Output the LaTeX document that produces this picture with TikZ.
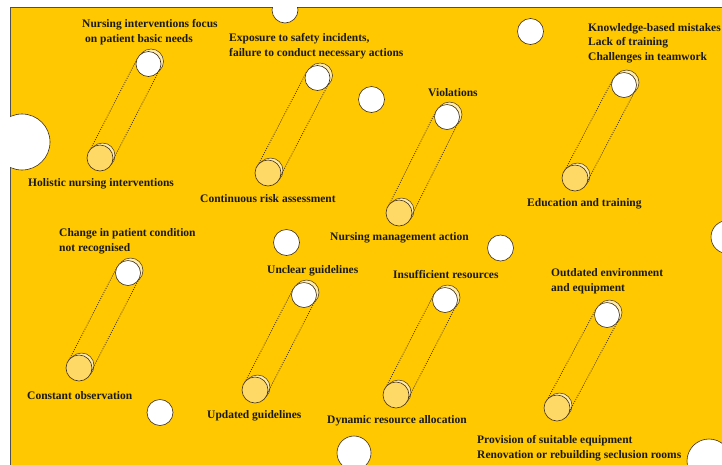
\documentclass[tikz,border=0pt]{standalone}
\usepackage{fontspec}
\setmainfont{Liberation Serif}
\usetikzlibrary{calc}
\definecolor{bgyellow}{HTML}{FFC800}
\definecolor{lowfill}{HTML}{FFD966}
\definecolor{pale}{HTML}{FFEBAA}
\definecolor{edge}{HTML}{40301E}
\definecolor{ink}{HTML}{1A1A1A}
\definecolor{frame}{HTML}{505050}
\tikzset{
  hole/.style={circle, draw=edge, fill=white, line width=0.6pt, inner sep=0pt, minimum size=26pt},
  topc/.style={circle, draw=edge, fill=white, line width=0.6pt, inner sep=0pt, minimum size=25pt},
  botc/.style={circle, draw=edge, fill=lowfill, line width=0.6pt, inner sep=0pt, minimum size=26pt},
  backc/.style={circle, draw=edge, fill=pale, line width=0.5pt, inner sep=0pt, minimum size=25pt},
  lbl/.style={font=\fontsize{11.5}{14.5}\selectfont\bfseries, text=ink, align=left, inner sep=0pt, anchor=base west},
  tube/.style={line width=0.8pt, draw=edge, dash pattern=on 0.9pt off 1.4pt}
}
\newcommand\tubepair[3]{%
  \coordinate (#1bc) at (#2);
  \coordinate (#1tc) at (#3);
  \node[backc] (#1bb) at ($(#1bc)+(2.5,-2.5)$) {};
  \node[backc] (#1tb) at ($(#1tc)+(2.5,-2.5)$) {};
  \draw[tube] ($(#1bc)!12.5pt!90:(#1tc)$) -- ($(#1tc)!12.5pt!-90:(#1bc)$);
  \draw[tube] ($(#1bc)!12.5pt!-90:(#1tc)$) -- ($(#1tc)!12.5pt!90:(#1bc)$);
  \node[botc] (#1b) at (#1bc) {};
  \node[topc] (#1t) at (#1tc) {};
}
\begin{document}
\begin{tikzpicture}[x=1pt,y=-1pt]
\useasboundingbox (0,0) rectangle (722,464);
\fill[white] (0,0) rectangle (722,464);
\fill[bgyellow, draw=frame, line width=0.8pt] (10,7) rectangle (740,480);
\begin{scope}
  \clip (10,7) rectangle (740,480);
  \node[hole, minimum size=56pt] (h1) at (22,142) {};
  \node[hole] (h2) at (285,10) {};
  \node[hole] (h3) at (371.5,99.5) {};
  \node[hole] (h4) at (530.5,31.5) {};
  \node[hole] (h5) at (286.5,242.5) {};
  \node[hole] (h6) at (500.5,248) {};
  \node[hole] (h7) at (160,412.5) {};
  \node[hole, minimum size=34pt] (h8) at (354,453) {};
  \node[hole, minimum size=33pt] (h9) at (727.5,237) {};
  \node[hole, minimum size=44pt] (h10) at (709,461) {};
\end{scope}
\tubepair{p1}{100,158}{148.5,64}
\tubepair{p2}{268,173}{317.5,78}
\tubepair{p3}{399,213}{447,117}
\tubepair{p4}{575,178}{624,85}
\tubepair{p5}{79,368}{128,273}
\tubepair{p6}{255,390}{304,295}
\tubepair{p7}{396,395}{445,300}
\tubepair{p8}{557,408}{607,315}
\node[lbl] (l1a) at (82,42) {Nursing interventions focus\\\hspace*{3pt}on patient basic needs};
\node[lbl] (l1b) at (28,186) {Holistic nursing interventions};
\node[lbl] (l2a) at (229,56) {Exposure to safety incidents,\\failure to conduct necessary actions};
\node[lbl] (l2b) at (200,202) {Continuous risk assessment};
\node[lbl] (l3a) at (428,96) {Violations};
\node[lbl] (l3b) at (330,240) {Nursing management action};
\node[lbl] (l4a) at (588,60) {Knowledge-based mistakes\\Lack of training\\Challenges in teamwork};
\node[lbl] (l4b) at (527,206.5) {Education and training};
\node[lbl] (l5a) at (59,251) {Change in patient condition\\not recognised};
\node[lbl] (l5b) at (27,399) {Constant observation};
\node[lbl] (l6a) at (267,273) {Unclear guidelines};
\node[lbl] (l6b) at (207,418) {Updated guidelines};
\node[lbl] (l7a) at (393,278) {Insufficient resources};
\node[lbl] (l7b) at (327,423) {Dynamic resource allocation};
\node[lbl] (l8a) at (551,291) {Outdated environment\\and equipment};
\node[lbl] (l8b) at (477,458) {Provision of suitable equipment\\Renovation or rebuilding seclusion rooms};
\end{tikzpicture}
\end{document}
